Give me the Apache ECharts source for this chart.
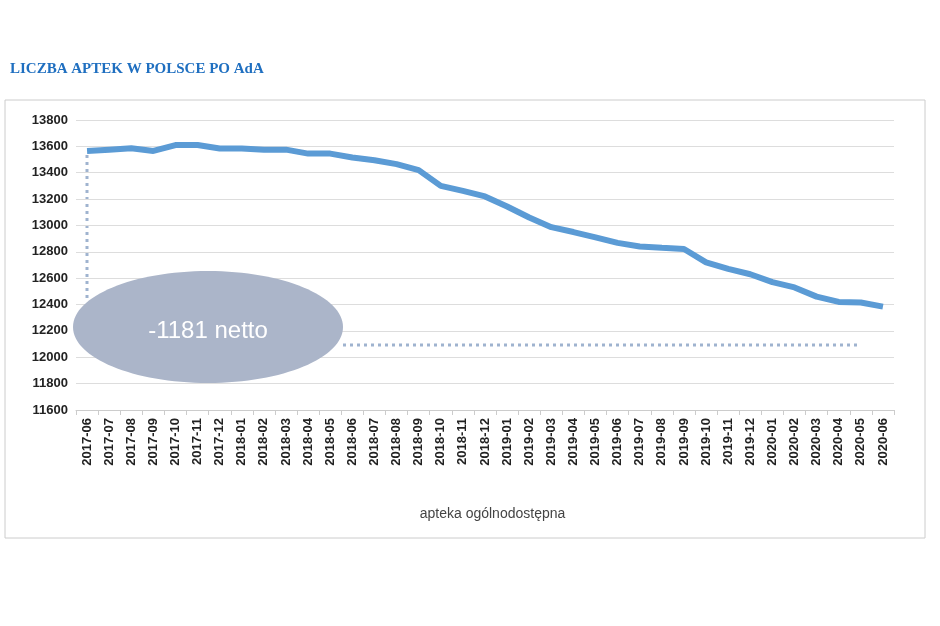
<!DOCTYPE html><html><head><meta charset="utf-8"><script src="https://cdn.jsdelivr.net/npm/echarts@6/dist/echarts.min.js"></script>
<style>html,body{margin:0;background:#fff}#c{width:940px;height:626px}</style></head><body><div id="c"></div><script>
const categories=['2017-06','2017-07','2017-08','2017-09','2017-10','2017-11','2017-12','2018-01','2018-02','2018-03','2018-04','2018-05','2018-06','2018-07','2018-08','2018-09','2018-10','2018-11','2018-12','2019-01','2019-02','2019-03','2019-04','2019-05','2019-06','2019-07','2019-08','2019-09','2019-10','2019-11','2019-12','2020-01','2020-02','2020-03','2020-04','2020-05','2020-06'];
const values=[13565,13575,13585,13565,13610,13610,13584,13584,13575,13575,13545,13545,13516,13495,13465,13420,13300,13262,13220,13144,13060,12987,12950,12910,12868,12840,12830,12821,12720,12670,12630,12570,12530,12460,12420,12415,12384];
const labeledIdx=[0,6,12,15,17,19,21,24,27,30,32,36];
const seriesName='apteka ogólnodostępna';
const title='LICZBA APTEK W POLSCE PO AdA';
const data=values.map((v,i)=>labeledIdx.includes(i)?{value:v,label:{show:true}}:v);
const ch=echarts.init(document.getElementById('c'));
ch.setOption({
 animation:false,
 title:{text:title,left:5,top:57,textStyle:{color:'#1f6fc0',fontSize:15,fontWeight:'bold',fontFamily:'Liberation Sans Narrow'}},
 grid:{left:76,right:46,top:120,bottom:216},
 legend:{bottom:100,left:'center',itemWidth:40,icon:'rect',itemHeight:5,textStyle:{fontSize:14,color:'#444',fontFamily:'Liberation Sans'},data:[seriesName]},
 xAxis:{type:'category',data:categories,boundaryGap:true,axisLine:{lineStyle:{color:'#ccc'}},axisTick:{show:true,lineStyle:{color:'#ccc'}},
  axisLabel:{rotate:90,interval:0,fontWeight:'bold',fontSize:13,color:'#222',fontFamily:'Liberation Sans'}},
 yAxis:{type:'value',min:11600,max:13800,interval:200,axisLabel:{fontWeight:'bold',fontSize:13,color:'#222',fontFamily:'Liberation Sans',formatter:v=>String(v)},
  splitLine:{lineStyle:{color:'#ddd'}}},
 series:[{name:seriesName,type:'line',data:data,symbol:'circle',symbolSize:1,showSymbol:true,itemStyle:{opacity:0},color:'#5b9bd5',lineStyle:{width:6,color:'#5b9bd5'},
  label:{show:false,position:'top',distance:14,fontWeight:'bold',fontSize:15,color:'#333',fontFamily:'Liberation Sans Narrow'}}],
 graphic:[
  {type:'rect',shape:{x:5,y:100,width:920,height:438},style:{fill:'none',stroke:'#ccc',lineWidth:1},z:-10},
  {type:'line',shape:{x1:87,y1:155,x2:87,y2:300},style:{stroke:'#9fb3cf',lineWidth:3,lineDash:[3,4]}},
  {type:'line',shape:{x1:343,y1:345,x2:860,y2:345},style:{stroke:'#9fb3cf',lineWidth:3,lineDash:[3,4]}},
  {type:'ellipse',shape:{cx:208,cy:327,rx:135,ry:56},style:{fill:'#abb5c9'},z:10},
  {type:'text',x:208,y:331,z:11,style:{text:'-1181 netto',fill:'#fff',fontSize:24,fontFamily:'Liberation Sans',align:'center',verticalAlign:'middle'}}
 ]
});
</script></body></html>
